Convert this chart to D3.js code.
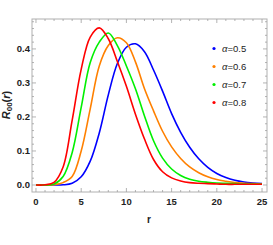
<!DOCTYPE html>
<html>
<head>
<meta charset="utf-8">
<script src="https://cdn.jsdelivr.net/npm/d3@7"></script>
<style>
  body { margin: 0; background: #fff; }
  text { font-family: "Liberation Sans", Arial, sans-serif; }
</style>
</head>
<body>
<script>
const rValues = d3.range(0, 26);
const alphaLabels = ["0.5", "0.6", "0.7", "0.8"];
const colors = ["#0000ff", "#ff8000", "#00f000", "#ff0000"];

const blue = [0, 0, 0, 0.0005, 0.005, 0.024, 0.07, 0.153, 0.265, 0.357, 0.405, 0.415, 0.392, 0.338, 0.276, 0.21, 0.155, 0.111, 0.077, 0.052, 0.034, 0.022, 0.014, 0.009, 0.006, 0.004];
const orange = [0, 0, 0.001, 0.007, 0.025, 0.1, 0.224, 0.35, 0.41, 0.433, 0.418, 0.362, 0.283, 0.218, 0.158, 0.112, 0.078, 0.053, 0.036, 0.024, 0.016, 0.011, 0.007, 0.005, 0.004, 0.003];
const green = [0, 0, 0.003, 0.025, 0.095, 0.228, 0.36, 0.42, 0.447, 0.41, 0.35, 0.283, 0.203, 0.13, 0.079, 0.047, 0.028, 0.017, 0.011, 0.008, 0.006, 0.005, 0.004, 0.003, 0.003, 0.002];
const red = [0, 0.0005, 0.008, 0.053, 0.19, 0.34, 0.435, 0.462, 0.43, 0.363, 0.29, 0.208, 0.135, 0.075, 0.039, 0.021, 0.012, 0.007, 0.005, 0.004, 0.003, 0.002, 0.002, 0.002, 0.002, 0.002];
const series = [blue, orange, green, red];

const xTicks = [0, 5, 10, 15, 20, 25];
const yTicks = [0, 0.1, 0.2, 0.3, 0.4];

const W = 273, H = 245;
const plotL = 32, plotR = 267, plotT = 19, plotB = 192;

const svg = d3.select("body").append("svg")
    .attr("width", W)
    .attr("height", H);

const x = d3.scaleLinear().domain([-0.44, 25.55]).range([plotL, plotR]);
const y = d3.scaleLinear().domain([-0.0206, 0.488]).range([plotB, plotT]);

// frame
svg.append("rect")
    .attr("x", plotL).attr("y", plotT)
    .attr("width", plotR - plotL).attr("height", plotB - plotT)
    .attr("fill", "none").attr("stroke", "#b0b0b0").attr("stroke-width", 1);

const tickCol = "#a0a0a0";
const g = svg.append("g").attr("stroke", tickCol).attr("stroke-width", 0.8);

// x ticks (bottom and top)
d3.range(0, 26, 1).forEach(v => {
  const len = v % 5 === 0 ? 4 : 2;
  g.append("line").attr("x1", x(v)).attr("x2", x(v)).attr("y1", plotB).attr("y2", plotB - len);
  g.append("line").attr("x1", x(v)).attr("x2", x(v)).attr("y1", plotT).attr("y2", plotT + len);
});
// y ticks (left and right)
d3.range(0, 0.481, 0.02).forEach(v => {
  const major = Math.abs(v * 10 - Math.round(v * 10)) < 1e-6;
  const len = major ? 4 : 2;
  g.append("line").attr("y1", y(v)).attr("y2", y(v)).attr("x1", plotL).attr("x2", plotL + len);
  g.append("line").attr("y1", y(v)).attr("y2", y(v)).attr("x1", plotR).attr("x2", plotR - len);
});

// tick labels
svg.selectAll(".xl").data(xTicks).enter().append("text")
    .attr("x", d => x(d)).attr("y", 205)
    .attr("text-anchor", "middle")
    .attr("font-size", 9.5).attr("font-weight", "bold").attr("fill", "#222")
    .text(d => d);

svg.selectAll(".yl").data(yTicks).enter().append("text")
    .attr("x", 30).attr("y", d => y(d) + 3.3)
    .attr("text-anchor", "end")
    .attr("font-size", 9.5).attr("font-weight", "bold").attr("fill", "#222")
    .text(d => d.toFixed(1));

// axis titles
svg.append("text")
    .attr("x", 149).attr("y", 223)
    .attr("text-anchor", "middle")
    .attr("font-size", 10).attr("font-weight", "bold").attr("fill", "#222")
    .text("r");

const yt = svg.append("text")
    .attr("transform", "translate(10,105) rotate(-90)")
    .attr("text-anchor", "middle")
    .attr("font-size", 11).attr("font-weight", "bold").attr("fill", "#222");
yt.append("tspan").attr("font-style", "italic").text("R");
yt.append("tspan").attr("font-size", 8).attr("dy", 2).text("00");
yt.append("tspan").attr("dy", -2).text("(");
yt.append("tspan").attr("font-style", "italic").text("r");
yt.append("tspan").text(")");

// curves
const line = d3.line()
    .x((d, i) => x(rValues[i]))
    .y(d => y(d))
    .curve(d3.curveCatmullRom.alpha(0.5));

svg.selectAll(".curve").data(series).enter().append("path")
    .attr("d", d => line(d))
    .attr("fill", "none")
    .attr("stroke", (d, i) => colors[i])
    .attr("stroke-width", 1.6);

// legend
const lg = svg.selectAll(".lg").data(alphaLabels).enter().append("g")
    .attr("transform", (d, i) => `translate(214,${48.5 + i * 18})`);
lg.append("circle").attr("r", 1.6).attr("fill", (d, i) => colors[i]);
const lt = lg.append("text").attr("x", 8).attr("y", 3.5)
    .attr("font-size", 9.5).attr("fill", "#222");
lt.append("tspan").attr("font-style", "italic").text("α");
lt.append("tspan").text(d => "=" + d);
</script>
</body>
</html>
